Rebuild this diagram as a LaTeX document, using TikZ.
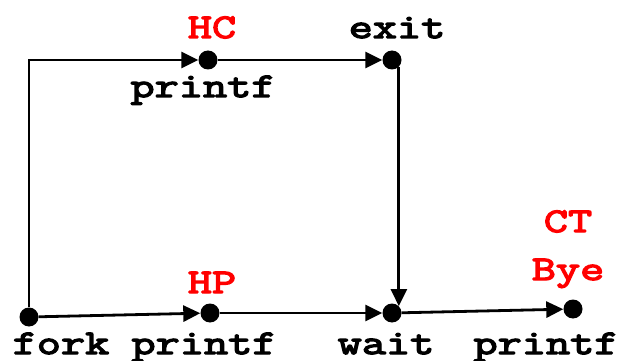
\documentclass[tikz,border=0pt]{standalone}
\usepackage{fontspec}
\newfontfamily\labelfont[FakeStretch=1.36,FakeBold=4]{Latin Modern Mono}
\usepackage{tikz}
\usetikzlibrary{arrows.meta}
\tikzset{>={Triangle[length=17,width=16]}}
\colorlet{myred}{red}

\begin{document}
\begin{tikzpicture}[x=1pt,y=-1pt,
        dot/.style={circle,fill,inner sep=0pt,minimum size=19pt},
        lbl/.style={anchor=base,inner sep=0pt,font=\fontsize{34.5}{34.5}\selectfont\labelfont},
        msg/.style={lbl,text=myred},
        edge/.style={line width=2.8pt,->}]
        \useasboundingbox (0,0) rectangle (622,361);

        % POINTS
        \node[dot] (fork) at (29,317) {};
        \node[dot] (hpPrint) at (210,313) {};
        \node[dot] (wait) at (392,313) {};
        \node[dot] (ctPrint) at (573,309) {};
        \node[dot] (hcPrint) at (208,60) {};
        \node[dot] (exit) at (392,60) {};
        \coordinate (corner) at (29,60);

        % LABELS
        \node[lbl] (forkTxt) at (61,354) {fork};
        \node[lbl] (hpTxt) at (204,354) {printf};
        \node[lbl] (waitTxt) at (386,354) {wait};
        \node[lbl] (ctTxt) at (546,354) {printf};
        \node[lbl] (hcTxt) at (203,97) {printf};
        \node[lbl] (exitTxt) at (397,38) {exit};
        \node[msg] (hcMsg) at (212,38) {HC};
        \node[msg] (hpMsg) at (212,293) {HP};
        \node[msg] (ctMsg) at (568,232) {CT};
        \node[msg] (byeMsg) at (568,280) {Bye};

        % LINES
        \draw[edge] (fork) -- (corner) -- (hcPrint);
        \draw[edge] (hcPrint) -- (exit);
        \draw[edge] (exit.-45) -- (wait.45);
        \draw[edge] (fork) -- (hpPrint);
        \draw[edge] (hpPrint) -- (wait);
        \draw[edge] (wait) -- (ctPrint);

    \end{tikzpicture}
\end{document}
